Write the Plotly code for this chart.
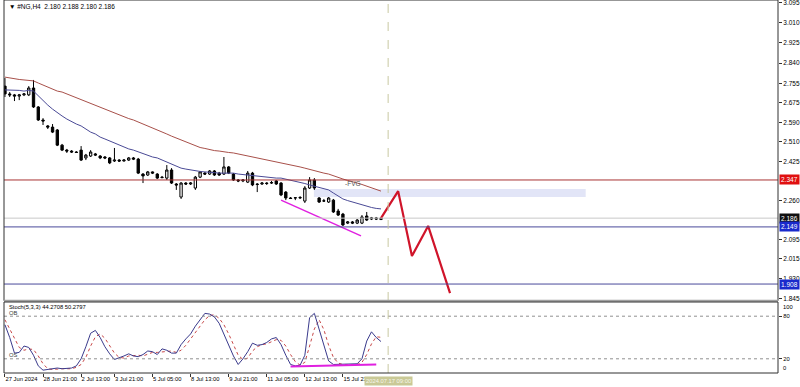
import plotly.graph_objects as go

# ---------------- data (H4 bars of #NG, 27 Jun - 17 Jul 2024) ----------------
open_ = [2.743, 2.710, 2.706, 2.701, 2.706, 2.706, 2.735, 2.655, 2.600, 2.575,
         2.570, 2.558, 2.494, 2.473, 2.469, 2.465, 2.473, 2.440, 2.448, 2.457,
         2.448, 2.444, 2.440, 2.427, 2.431, 2.427, 2.431, 2.440, 2.435, 2.372,
         2.368, 2.381, 2.372, 2.359, 2.355, 2.389, 2.330, 2.275, 2.334, 2.330,
         2.313, 2.359, 2.376, 2.372, 2.385, 2.376, 2.372, 2.402, 2.372, 2.347,
         2.343, 2.338, 2.376, 2.330, 2.330, 2.334, 2.334, 2.343, 2.334, 2.296,
         2.271, 2.271, 2.271, 2.258, 2.313, 2.347, 2.271, 2.258, 2.254, 2.262,
         2.216, 2.203, 2.165, 2.170, 2.165, 2.165, 2.195, 2.182, 2.187, 2.180]
high = [2.777, 2.718, 2.710, 2.710, 2.714, 2.743, 2.769, 2.659, 2.608, 2.579,
        2.583, 2.562, 2.499, 2.478, 2.473, 2.469, 2.490, 2.457, 2.473, 2.461,
        2.452, 2.448, 2.444, 2.482, 2.435, 2.435, 2.444, 2.444, 2.440, 2.376,
        2.385, 2.383, 2.376, 2.364, 2.410, 2.397, 2.334, 2.338, 2.338, 2.338,
        2.364, 2.385, 2.381, 2.389, 2.389, 2.381, 2.444, 2.406, 2.376, 2.351,
        2.351, 2.385, 2.381, 2.334, 2.338, 2.338, 2.343, 2.347, 2.338, 2.300,
        2.275, 2.275, 2.279, 2.321, 2.359, 2.355, 2.275, 2.267, 2.275, 2.267,
        2.225, 2.208, 2.174, 2.174, 2.182, 2.199, 2.212, 2.191, 2.191, 2.188]
low = [2.697, 2.697, 2.680, 2.684, 2.701, 2.701, 2.651, 2.596, 2.579, 2.562,
       2.545, 2.490, 2.469, 2.461, 2.461, 2.461, 2.427, 2.431, 2.444, 2.448,
       2.435, 2.435, 2.414, 2.423, 2.423, 2.425, 2.427, 2.431, 2.372, 2.334,
       2.364, 2.372, 2.351, 2.355, 2.347, 2.330, 2.305, 2.267, 2.326, 2.326,
       2.305, 2.355, 2.368, 2.368, 2.364, 2.364, 2.368, 2.372, 2.343, 2.338,
       2.338, 2.334, 2.321, 2.296, 2.326, 2.326, 2.330, 2.326, 2.279, 2.262,
       2.267, 2.262, 2.267, 2.250, 2.309, 2.305, 2.250, 2.254, 2.250, 2.208,
       2.195, 2.153, 2.161, 2.161, 2.161, 2.161, 2.174, 2.178, 2.178, 2.180]
close = [2.710, 2.706, 2.701, 2.706, 2.710, 2.735, 2.655, 2.600, 2.596, 2.570,
         2.549, 2.494, 2.473, 2.469, 2.465, 2.463, 2.431, 2.452, 2.465, 2.452,
         2.440, 2.440, 2.419, 2.431, 2.427, 2.431, 2.440, 2.435, 2.376, 2.364,
         2.381, 2.376, 2.355, 2.357, 2.389, 2.334, 2.326, 2.334, 2.330, 2.334,
         2.359, 2.381, 2.372, 2.385, 2.368, 2.368, 2.402, 2.376, 2.347, 2.343,
         2.347, 2.376, 2.326, 2.328, 2.334, 2.332, 2.336, 2.330, 2.284, 2.271,
         2.269, 2.272, 2.273, 2.313, 2.347, 2.313, 2.254, 2.259, 2.271, 2.212,
         2.199, 2.157, 2.170, 2.165, 2.178, 2.191, 2.178, 2.187, 2.182, 2.186]

ma_fast = [2.727, 2.727, 2.725, 2.725, 2.722, 2.725, 2.722, 2.701, 2.680, 2.663,
           2.646, 2.630, 2.617, 2.604, 2.592, 2.583, 2.575, 2.562, 2.549, 2.541,
           2.528, 2.520, 2.511, 2.503, 2.494, 2.486, 2.478, 2.473, 2.465, 2.457,
           2.452, 2.444, 2.440, 2.431, 2.423, 2.414, 2.406, 2.397, 2.393, 2.389,
           2.385, 2.383, 2.381, 2.381, 2.378, 2.376, 2.376, 2.376, 2.376, 2.372,
           2.370, 2.368, 2.364, 2.361, 2.359, 2.359, 2.357, 2.355, 2.355, 2.351,
           2.345, 2.340, 2.336, 2.332, 2.326, 2.321, 2.317, 2.309, 2.305, 2.292,
           2.279, 2.267, 2.260, 2.254, 2.248, 2.241, 2.235, 2.231, 2.227, 2.225]
ma_slow = [2.781, 2.777, 2.773, 2.771, 2.769, 2.767, 2.765, 2.756, 2.748, 2.739,
           2.731, 2.722, 2.718, 2.710, 2.701, 2.693, 2.684, 2.676, 2.668, 2.661,
           2.655, 2.646, 2.638, 2.630, 2.621, 2.613, 2.606, 2.600, 2.592, 2.583,
           2.575, 2.566, 2.558, 2.549, 2.541, 2.532, 2.524, 2.516, 2.507, 2.499,
           2.490, 2.484, 2.480, 2.475, 2.471, 2.469, 2.465, 2.463, 2.461, 2.457,
           2.452, 2.448, 2.444, 2.440, 2.435, 2.431, 2.427, 2.423, 2.419, 2.414,
           2.410, 2.406, 2.402, 2.397, 2.391, 2.385, 2.381, 2.376, 2.372, 2.364,
           2.357, 2.351, 2.345, 2.338, 2.334, 2.328, 2.321, 2.313, 2.305, 2.300]

stoch_k = [68, 50, 28, 29, 38, 36, 25, 10, 4, 5, 6, 7, 6, 6, 7, 10, 20, 37, 56, 60,
           50, 37, 27, 19, 21, 24, 27, 24, 23, 26, 31, 30, 26, 34, 32, 28, 28, 40, 48, 55,
           66, 75, 84, 83, 79, 70, 55, 40, 24, 12, 20, 30, 42, 39, 40, 43, 48, 50, 40, 25,
           12, 10, 11, 25, 78, 84, 62, 38, 17, 12, 12, 12, 12, 12, 13, 20, 45, 58, 50, 44.27]
stoch_d = [75, 62, 49, 36, 32, 34, 33, 24, 13, 6, 5, 6, 6, 6, 6, 8, 12, 22, 38, 51,
           55, 49, 38, 28, 22, 21, 24, 25, 25, 24, 27, 29, 29, 30, 31, 31, 29, 32, 39, 48,
           56, 65, 75, 81, 82, 77, 68, 55, 40, 25, 19, 21, 31, 37, 40, 41, 44, 47, 46, 38,
           26, 16, 11, 15, 38, 62, 75, 61, 39, 22, 14, 12, 12, 12, 12, 15, 26, 41, 51, 50.28]

bar_index = list(range(len(close)))

tick_bars = [0, 8, 16, 23, 31, 39, 47, 55, 63, 71]
tick_labels = ["27 Jun 2024", "28 Jun 21:00", "2 Jul 13:00", "3 Jul 21:00", "5 Jul 05:00",
               "8 Jul 13:00", "9 Jul 21:00", "11 Jul 05:00", "12 Jul 13:00", "15 Jul 21:00"]
price_ticks = [3.095, 3.010, 2.925, 2.840, 2.755, 2.675, 2.590, 2.510, 2.425,
               2.260, 2.095, 2.015, 1.930, 1.845]
stoch_ticks = [20, 80]

# levels / drawings
resistance = 2.347
bid = 2.186
support1 = 2.149
support2 = 1.908
fvg_bars = [64.9, 122]
fvg_prices = [2.275, 2.309]
trend_bars = [58, 74.8]
trend_prices = [2.262, 2.111]
stoch_trend_bars = [60, 78]
stoch_trend_vals = [9, 12]
forecast_bars = [79, 82.6, 85.5, 88.9, 93.5]
forecast_prices = [2.186, 2.300, 2.026, 2.153, 1.870]
now_bar = 80.5

FONT = "Liberation Sans"
fs = 6.5
fx = 5.8

fig = go.Figure()

fig.add_trace(go.Candlestick(
    x=bar_index, open=open_, high=high, low=low, close=close,
    increasing=dict(line=dict(color="black", width=1), fillcolor="white"),
    decreasing=dict(line=dict(color="black", width=1), fillcolor="black"),
    whiskerwidth=0, xaxis="x", yaxis="y", showlegend=False, hoverinfo="skip"))
fig.add_trace(go.Scatter(x=bar_index, y=ma_slow, mode="lines",
                         line=dict(color="#A8504A", width=1), yaxis="y", showlegend=False))
fig.add_trace(go.Scatter(x=bar_index, y=ma_fast, mode="lines",
                         line=dict(color="#4A4A96", width=1), yaxis="y", showlegend=False))
fig.add_trace(go.Scatter(x=trend_bars, y=trend_prices, mode="lines",
                         line=dict(color="#E020E0", width=1.5), yaxis="y", showlegend=False))
fig.add_trace(go.Scatter(x=forecast_bars, y=forecast_prices, mode="lines",
                         line=dict(color="#D0142A", width=2.2), yaxis="y", showlegend=False))

fig.add_trace(go.Scatter(x=bar_index, y=stoch_d, mode="lines",
                         line=dict(color="#C84848", width=1, dash="dot"), yaxis="y2", showlegend=False))
fig.add_trace(go.Scatter(x=bar_index, y=stoch_k, mode="lines",
                         line=dict(color="#3A3A8C", width=1), yaxis="y2", showlegend=False))
fig.add_trace(go.Scatter(x=stoch_trend_bars, y=stoch_trend_vals, mode="lines",
                         line=dict(color="#E020E0", width=2), yaxis="y2", showlegend=False))

main_dom = [1 - 300.7 / 373, 1]
stoch_dom = [0, 71 / 373]

shapes = [
    dict(type="rect", xref="x", yref="y", x0=fvg_bars[0], x1=fvg_bars[1],
         y0=fvg_prices[0], y1=fvg_prices[1], fillcolor="#E2E5F7", line=dict(width=0), layer="below"),
    dict(type="line", xref="paper", yref="y", x0=0, x1=1, y0=resistance, y1=resistance,
         line=dict(color="#A83434", width=1)),
    dict(type="line", xref="paper", yref="y", x0=0, x1=1, y0=bid, y1=bid,
         line=dict(color="#C8C8C8", width=1)),
    dict(type="line", xref="paper", yref="y", x0=0, x1=1, y0=support1, y1=support1,
         line=dict(color="#4A4A9A", width=1)),
    dict(type="line", xref="paper", yref="y", x0=0, x1=1, y0=support2, y1=support2,
         line=dict(color="#4A4A9A", width=1)),
    dict(type="line", xref="paper", yref="y2", x0=0, x1=1, y0=80, y1=80,
         line=dict(color="#909090", width=1, dash="dot")),
    dict(type="line", xref="paper", yref="y2", x0=0, x1=1, y0=20, y1=20,
         line=dict(color="#909090", width=1, dash="dot")),
    dict(type="line", xref="x", yref="paper", x0=now_bar, x1=now_bar, y0=0, y1=1,
         line=dict(color="#C8C8A2", width=1, dash="dash")),
    # pane frames
    dict(type="rect", xref="paper", yref="paper", x0=0, x1=1, y0=main_dom[0], y1=1,
         line=dict(color="#303030", width=1)),
    dict(type="line", xref="paper", yref="paper", x0=0, x1=1, y0=main_dom[0], y1=main_dom[0],
         line=dict(color="#A0A0A0", width=2)),
    dict(type="rect", xref="paper", yref="paper", x0=0, x1=1, y0=0, y1=stoch_dom[1],
         line=dict(color="#303030", width=1)),
]

ann = [
    dict(xref="paper", yref="paper", x=0, y=1, xanchor="left", yanchor="top", xshift=3, yshift=-1,
         text="▼ #NG,H4  2.180 2.188 2.180 2.186", showarrow=False,
         font=dict(family=FONT, size=fs, color="black")),
    dict(xref="paper", yref="paper", x=0, y=stoch_dom[1], xanchor="left", yanchor="top", xshift=3, yshift=0,
         text="Stoch(5,3,3) 44.2708 50.2797", showarrow=False,
         font=dict(family=FONT, size=fx, color="black")),
    dict(xref="paper", yref="y2", x=0, y=80, xanchor="left", yanchor="middle", xshift=3, yshift=3,
         text="OB", showarrow=False, font=dict(family=FONT, size=fx, color="#404040")),
    dict(xref="paper", yref="y2", x=0, y=20, xanchor="left", yanchor="middle", xshift=3, yshift=4,
         text="OS", showarrow=False, font=dict(family=FONT, size=fx, color="#404040")),
    dict(xref="x", yref="y", x=71, y=2.334, xanchor="left", yanchor="middle",
         text="-FVG", showarrow=False, font=dict(family=FONT, size=fs, color="#555555")),
    dict(xref="paper", yref="y2", x=1, y=100, xanchor="left", yanchor="top", xshift=3, yshift=0,
         text="100", showarrow=False, font=dict(family=FONT, size=fx, color="black")),
    dict(xref="paper", yref="y2", x=1, y=0, xanchor="left", yanchor="bottom", xshift=3, yshift=0,
         text="0", showarrow=False, font=dict(family=FONT, size=fx, color="black")),
    dict(xref="x", yref="paper", x=now_bar, y=0, xanchor="center", yanchor="top", yshift=-3,
         text="2024.07.17 09:00", showarrow=False, bgcolor="#C9C996", borderpad=1,
         font=dict(family=FONT, size=fx, color="#F6F6EC")),
]
for val, bg in [(resistance, "#E01010"), (bid, "#101010"), (support1, "#1A2ACC"), (support2, "#1A2ACC")]:
    ann.append(dict(xref="paper", yref="y", x=1, y=val, xanchor="left", yanchor="middle", xshift=1,
                    text=f"{val:.3f}", showarrow=False, bgcolor=bg, borderpad=1,
                    font=dict(family=FONT, size=fs, color="white")))

fig.update_layout(
    width=800, height=387,
    margin=dict(l=4, r=22, t=0, b=14, autoexpand=False),
    paper_bgcolor="white", plot_bgcolor="white",
    showlegend=False,
    xaxis=dict(range=[-0.2, 162.4], anchor="y2", rangeslider=dict(visible=False),
               tickmode="array", tickvals=tick_bars, ticktext=tick_labels,
               ticks="outside", ticklen=3, tickcolor="#303030", tickangle=0,
               ticklabelposition="outside right", automargin=False,
               tickfont=dict(family=FONT, size=fx, color="black"),
               showgrid=False, zeroline=False, showline=False),
    yaxis=dict(domain=main_dom, range=[1.8377, 3.1063], side="right", anchor="x",
               tickmode="array", tickvals=price_ticks, ticktext=[f"{v:.3f}" for v in price_ticks],
               ticks="outside", ticklen=3, tickcolor="#303030", automargin=False,
               ticklabeloverflow="allow",
               tickfont=dict(family=FONT, size=fs, color="black"),
               showgrid=False, zeroline=False, showline=False),
    yaxis2=dict(domain=stoch_dom, range=[0, 100], side="right", anchor="x",
                tickmode="array", tickvals=stoch_ticks, ticktext=[str(v) for v in stoch_ticks],
                ticks="outside", ticklen=3, tickcolor="#303030", automargin=False,
                tickfont=dict(family=FONT, size=fx, color="black"),
                showgrid=False, zeroline=False, showline=False),
    shapes=shapes, annotations=ann,
)

fig.write_html("out.html")
